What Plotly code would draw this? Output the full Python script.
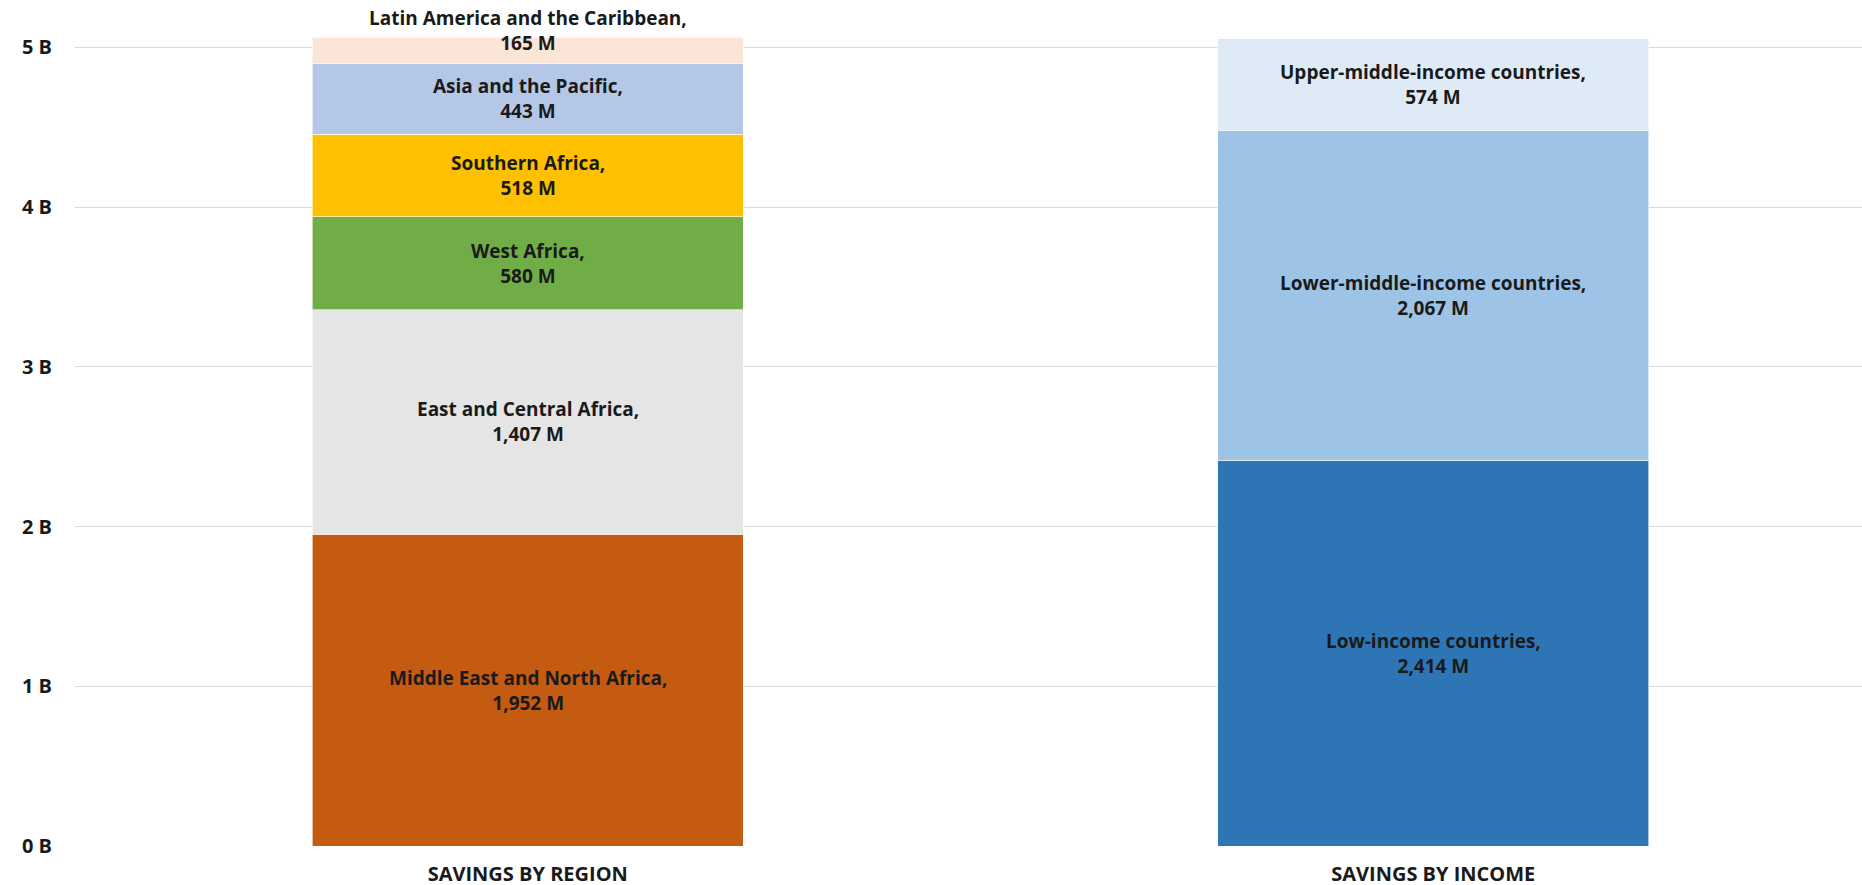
import plotly.graph_objects as go

categories = ["SAVINGS BY REGION", "SAVINGS BY INCOME"]

region_names = ["Middle East and North Africa", "East and Central Africa", "West Africa",
                "Southern Africa", "Asia and the Pacific", "Latin America and the Caribbean"]
region_values = [1952, 1407, 580, 518, 443, 165]  # millions
region_colors = ["#C55A11", "#E5E5E5", "#70AD47", "#FFC000", "#B4C7E7", "#FBE5D6"]

income_names = ["Low-income countries", "Lower-middle-income countries", "Upper-middle-income countries"]
income_values = [2414, 2067, 574]  # millions
income_colors = ["#2E75B6", "#9DC3E6", "#DEEBF7"]

y_tickvals = [0, 1, 2, 3, 4, 5]
y_ticktext = ["0 B", "1 B", "2 B", "3 B", "4 B", "5 B"]

FONT = "Open Sans"
fig = go.Figure()
annotations = []


def add_stack(cat, names, values, colors, top_shift=0):
    base = 0.0
    for i, (n, v, c) in enumerate(zip(names, values, colors)):
        vb = v / 1000.0
        fig.add_trace(go.Bar(
            x=[cat], y=[vb], name=n,
            marker=dict(color=c, line=dict(color="rgba(255,255,255,0.6)", width=1)),
            width=0.476, showlegend=False, hoverinfo="name+y"))
        ys = top_shift if i == len(names) - 1 else 0
        annotations.append(dict(
            x=cat, y=base + vb / 2, xref="x", yref="y", showarrow=False,
            text=f"{n},<br>{v:,} M", yshift=ys,
            font=dict(family=FONT, size=19, color="#1a1a1a", weight=700),
            align="center"))
        base += vb


add_stack(categories[0], region_names, region_values, region_colors, top_shift=20)
add_stack(categories[1], income_names, income_values, income_colors)

fig.update_layout(
    barmode="stack",
    width=1862, height=885,
    margin=dict(l=75, r=0, t=24, b=39),
    paper_bgcolor="white", plot_bgcolor="white",
    annotations=annotations,
    font=dict(family=FONT),
    xaxis=dict(range=[-0.5, 1.4735], showgrid=False, zeroline=False, showline=False,
               tickfont=dict(family=FONT, size=20, color="#1a1a1a", weight=700),
               ticks="", ticklabelstandoff=14, fixedrange=True, automargin=False),
    yaxis=dict(range=[0, 5.147], tickvals=y_tickvals, ticktext=y_ticktext,
               showgrid=True, gridcolor="#D9D9D9", gridwidth=1.3, zeroline=False, showline=False,
               tickfont=dict(family=FONT, size=20, color="#1a1a1a", weight=700),
               ticks="", ticklabelstandoff=22, fixedrange=True, automargin=False),
)

fig.write_html("out.html", config={"displayModeBar": False},
               post_script="document.body.style.margin='0';document.body.style.overflow='hidden';")
